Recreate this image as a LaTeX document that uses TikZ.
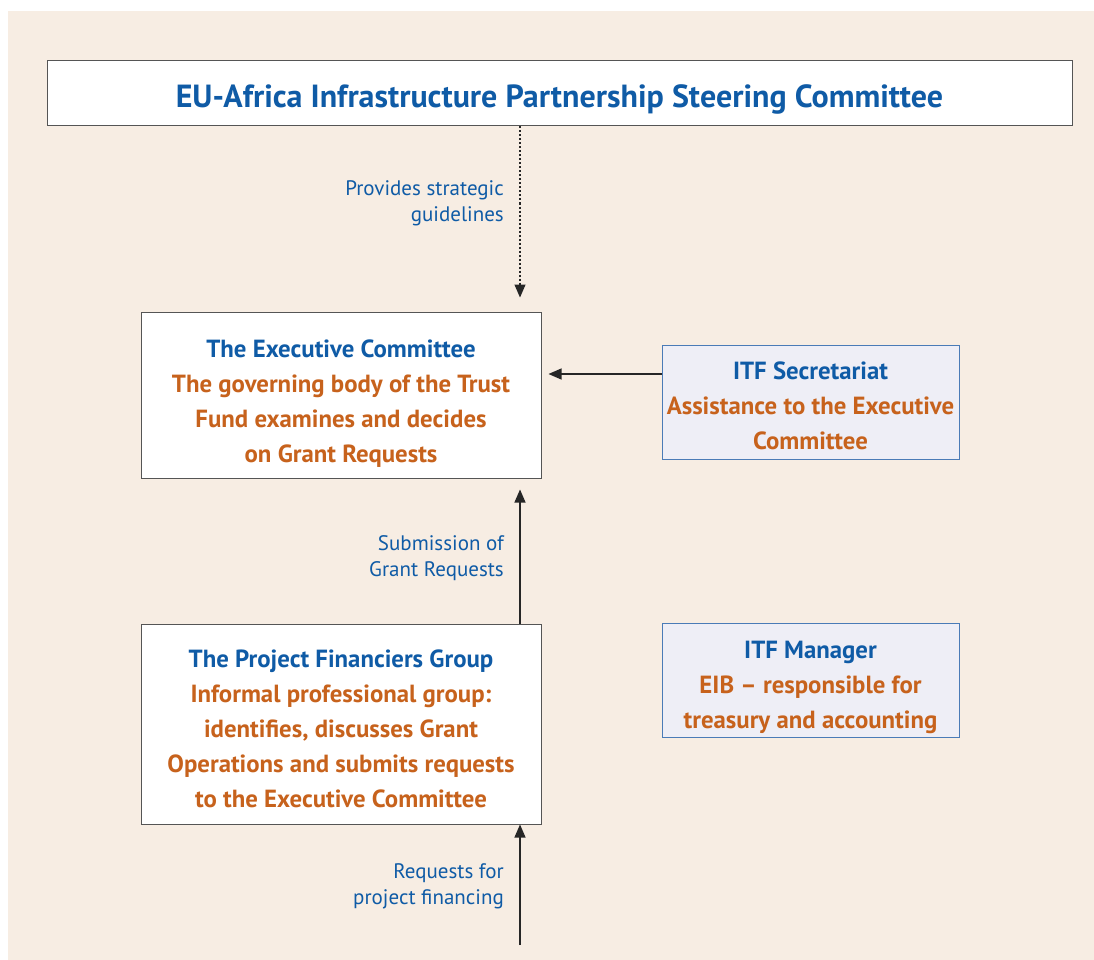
\documentclass[tikz,border=0pt]{standalone}
\usepackage{fontspec}
\setmainfont{PT Sans}
\usetikzlibrary{arrows.meta}
\definecolor{bg}{HTML}{F7EDE3}
\definecolor{myblue}{HTML}{0F5BA6}
\definecolor{myorange}{HTML}{C7621C}
\definecolor{boxline}{HTML}{555555}
\definecolor{lav}{HTML}{EEEEF6}
\definecolor{lavline}{HTML}{4A7BB7}
\begin{document}
\begin{tikzpicture}[x=1pt,y=-1pt,
  whitebox/.style={draw=boxline,line width=1pt,fill=white,inner sep=0pt},
  lavbox/.style={draw=lavline,line width=1pt,fill=lav,inner sep=0pt},
  txt/.style={inner sep=0pt,align=center,font=\bfseries\fontsize{24.8}{35}\selectfont},
  lbl/.style={anchor=east,align=right,text=myblue,inner sep=0pt,
    font=\fontsize{21}{26}\selectfont},
  conn/.style={draw=black!85,line width=1.1pt,-{Triangle[length=13pt,width=11pt]}},
  dconn/.style={conn,dash pattern=on 2pt off 2pt}
]
\useasboundingbox (0,0) rectangle (1094,960);
\fill[bg] (8,11) rectangle (1094,960);

\node[whitebox,minimum width=1025pt,minimum height=65pt] (top) at (559.5,93.5) {};
\node[txt,font=\bfseries\fontsize{32}{35}\selectfont,text=myblue] (toptxt) at ([yshift=-6pt]top.center)
  {EU-Africa Infrastructure Partnership Steering Committee};

\node[whitebox,minimum width=400pt,minimum height=166pt] (exec) at (341,395) {};
\node[txt] (exectxt) at ([yshift=-8.5pt]exec.center)
  {\textcolor{myblue}{The Executive Committee}\\
   \textcolor{myorange}{The governing body of the Trust}\\
   \textcolor{myorange}{Fund examines and decides}\\
   \textcolor{myorange}{on Grant Requests}};

\node[lavbox,minimum width=297pt,minimum height=114pt] (sec) at (810.5,402) {};
\node[txt] (sectxt) at ([yshift=-4pt]sec.center)
  {\textcolor{myblue}{ITF Secretariat}\\
   \textcolor{myorange}{Assistance to the Executive}\\
   \textcolor{myorange}{Committee}};

\node[whitebox,minimum width=400pt,minimum height=200pt] (pfg) at (341,724) {};
\node[txt] (pfgtxt) at ([yshift=-5pt]pfg.center)
  {\textcolor{myblue}{The Project Financiers Group}\\
   \textcolor{myorange}{Informal professional group:}\\
   \textcolor{myorange}{identifies, discusses Grant}\\
   \textcolor{myorange}{Operations and submits requests}\\
   \textcolor{myorange}{to the Executive Committee}};

\node[lavbox,minimum width=297pt,minimum height=114pt] (mgr) at (810.5,680.5) {};
\node[txt] (mgrtxt) at ([yshift=-6.5pt]mgr.center)
  {\textcolor{myblue}{ITF Manager}\\
   \textcolor{myorange}{EIB – responsible for}\\
   \textcolor{myorange}{treasury and accounting}};

\coordinate (cx) at (520,0);
\coordinate (src) at (520,945);

\draw[dconn,shorten >=14pt] (top.south -| cx) -- (exec.north -| cx);
\draw[conn,shorten >=7pt] (sec.west |- 0,374) -- (exec.east |- 0,374);
\draw[conn,shorten >=11pt] (pfg.north -| cx) -- (exec.south -| cx);
\draw[conn] (src) -- (pfg.south -| cx);

\node[lbl] (l1) at (504,203) {Provides strategic\\guidelines};
\node[lbl] (l2) at (504,558) {Submission of\\Grant Requests};
\node[lbl] (l3) at (504,886.5) {Requests for\\project financing};
\end{tikzpicture}
\end{document}
